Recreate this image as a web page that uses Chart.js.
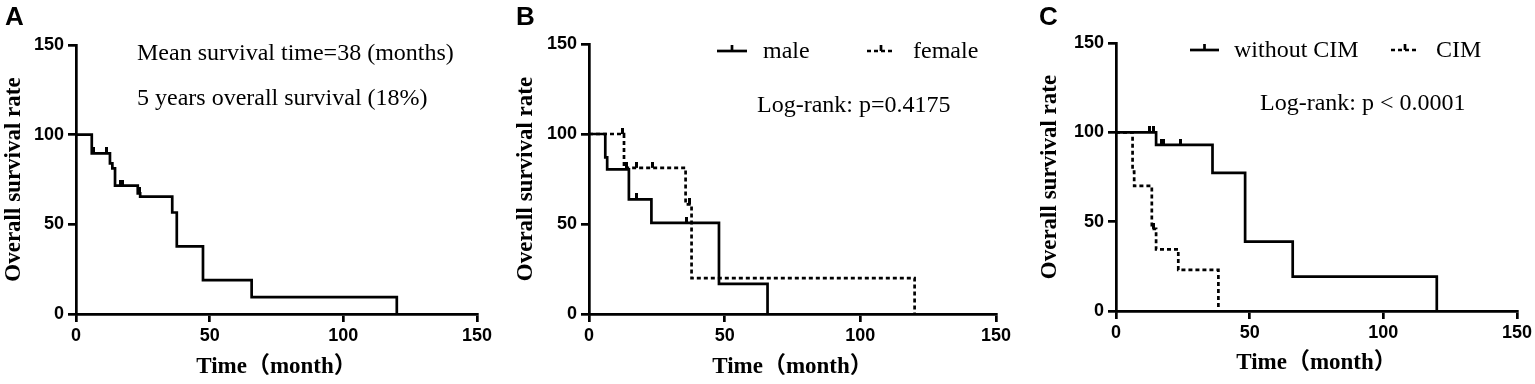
<!DOCTYPE html>
<html>
<head>
<meta charset="utf-8">
<script src="https://cdn.jsdelivr.net/npm/chart.js@4.4.1/dist/chart.umd.min.js"></script>
<style>
  html, body { margin: 0; padding: 0; background: #fff; }
  body { width: 1535px; height: 384px; position: relative; overflow: hidden; }
  .panel { position: absolute; top: 0; height: 384px; }
</style>
</head>
<body>
<div class="panel" style="left:0;width:505px"><canvas id="chartA" width="505" height="384"></canvas></div>
<div class="panel" style="left:505px;width:510px"><canvas id="chartB" width="510" height="384"></canvas></div>
<div class="panel" style="left:1015px;width:520px"><canvas id="chartC" width="520" height="384"></canvas></div>
<script>
// axis ticks and titles
const xTickValues = [0, 50, 100, 150];
const yTickValues = [0, 50, 100, 150];
const xTitle = 'Time（month）';
const yTitle = 'Overall survival rate';

// Panel A - all patients
const timeAll = [0, 5.9, 12.7, 13.6, 14.6, 23.1, 24, 36, 37.7, 47.5, 65.7, 120];
const survAll = [100, 89.6, 84, 81.2, 71.6, 67.3, 65.5, 56.6, 37.7, 18.9, 9.4, 0];
const censorTimeAll = [6.5, 11.5, 16.5, 17.3, 23.6];
const censorSurvAll = [89.6, 89.6, 71.6, 71.6, 67.3];

// Panel B - by sex
const timeMale = [0, 6.0, 6.7, 14.7, 23, 47.9, 65.8];
const survMale = [100, 87, 80.3, 63.7, 50.6, 16.7, 0];
const censorTimeMale = [17.5, 35.9];
const censorSurvMale = [63.7, 50.6];
const timeFemale = [0, 12.9, 35.6, 37.8, 120];
const survFemale = [100, 81.2, 60.9, 19.9, 0];
const censorTimeFemale = [12.4, 13.8, 17.5, 23.5, 37];
const censorSurvFemale = [100, 81.2, 81.2, 81.2, 60.9];

// Panel C - by CIM
const timeNoCim = [0, 15, 36.1, 48.3, 66.1, 120];
const survNoCim = [100, 93, 77.3, 38.8, 19.2, 0];
const censorTimeNoCim = [12.6, 13.9, 17, 17.7, 24];
const censorSurvNoCim = [100, 100, 93, 93, 93];
const timeCim = [0, 6.2, 6.8, 13.4, 15, 23.3, 38.3];
const survCim = [100, 78, 70, 46, 34.5, 23, 0];
const censorTimeCim = [14];
const censorSurvCim = [46];

const serif = '"Liberation Serif", "Times New Roman", "Noto Sans CJK SC", serif';
const sans = '"Liberation Sans", Arial, sans-serif';
const lw = 2.7;

// small upward tick used for censored cases
const tickImg = document.createElement('canvas');
tickImg.width = 3;
tickImg.height = 12;
const tctx = tickImg.getContext('2d');
tctx.fillStyle = '#000';
tctx.fillRect(0, 0, 3, 6);

const toPoints = (xs, ys) => xs.map((x, i) => ({ x: x, y: ys[i] }));

const curve = (label, xs, ys, dashed) => ({
  label: label,
  data: toPoints(xs, ys),
  stepped: true,
  borderColor: '#000',
  borderWidth: lw,
  borderDash: dashed ? [4, 3] : [],
  pointRadius: 0,
  fill: false
});

const censored = (label, xs, ys) => ({
  label: label + ' censored',
  data: toPoints(xs, ys),
  showLine: false,
  pointStyle: tickImg,
  pointRadius: 6,
  borderColor: '#000',
  backgroundColor: '#000'
});

const textPlugin = {
  id: 'panelText',
  afterDraw(chart, args, o) {
    const ctx = chart.ctx;
    ctx.save();
    ctx.fillStyle = '#000';
    ctx.strokeStyle = '#000';
    ctx.textAlign = 'left';
    ctx.textBaseline = 'alphabetic';
    (o.items || []).forEach(t => {
      ctx.font = t.font;
      ctx.fillText(t.text, t.x, t.y);
    });
    (o.legend || []).forEach(l => {
      const ds = chart.data.datasets[l.dataset];
      ctx.lineWidth = ds.borderWidth;
      ctx.setLineDash(ds.borderDash || []);
      ctx.beginPath();
      ctx.moveTo(l.x0, l.y);
      ctx.lineTo(l.x1, l.y);
      ctx.stroke();
      ctx.setLineDash([]);
      ctx.beginPath();
      const mid = (l.x0 + l.x1) / 2;
      ctx.moveTo(mid, l.y);
      ctx.lineTo(mid, l.y - 6);
      ctx.stroke();
      ctx.font = '24px ' + serif;
      ctx.fillText(ds.label, l.tx, l.ty);
    });
    ctx.restore();
  }
};

function axisOptions(o) {
  const grid = { drawOnChartArea: false, drawTicks: true, tickLength: 8, lineWidth: lw, color: '#000' };
  const border = { display: true, width: lw, color: '#000' };
  const tickFont = { family: sans, size: 18, weight: 'bold' };
  return {
    x: {
      type: 'linear', min: 0, max: 150,
      grid: grid, border: border,
      ticks: { color: '#000', font: tickFont, padding: 3 },
      afterBuildTicks: s => { s.ticks = xTickValues.map(v => ({ value: v })); },
      afterFit: s => { s.height = o.xHeight; },
      title: { display: true, text: xTitle, color: '#000',
        font: { family: serif, size: 23, weight: 'bold' },
        padding: { top: 0, bottom: o.xTitlePad } }
    },
    y: {
      type: 'linear', min: 0, max: 150,
      grid: grid, border: border,
      ticks: { color: '#000', font: tickFont, padding: 4 },
      afterBuildTicks: s => { s.ticks = yTickValues.map(v => ({ value: v })); },
      afterFit: s => { s.width = o.yWidth; },
      title: { display: true, text: yTitle, color: '#000',
        font: { family: serif, size: 23, weight: 'bold' },
        padding: { top: 0, bottom: 0 } }
    }
  };
}

function makePanel(id, datasets, o) {
  return new Chart(document.getElementById(id), {
    type: 'line',
    data: { datasets: datasets },
    options: {
      responsive: false,
      animation: false,
      events: [],
      layout: { padding: o.padding },
      scales: axisOptions(o),
      plugins: {
        legend: { display: false },
        tooltip: { enabled: false },
        panelText: { items: o.items, legend: o.legend }
      }
    },
    plugins: [textPlugin]
  });
}

makePanel('chartA', [
  curve('all patients', timeAll, survAll, false),
  censored('all patients', censorTimeAll, censorSurvAll)
], {
  padding: { left: 0, right: 28, top: 45, bottom: 0 },
  yWidth: 76, xHeight: 70, xTitlePad: 3,
  items: [
    { text: 'A', x: 5, y: 25, font: 'bold 26px ' + sans },
    { text: 'Mean survival time=38 (months)', x: 137, y: 60, font: '24px ' + serif },
    { text: '5 years overall survival (18%)', x: 137, y: 105, font: '24px ' + serif }
  ],
  legend: []
});

makePanel('chartB', [
  curve('male', timeMale, survMale, false),
  curve('female', timeFemale, survFemale, true),
  censored('male', censorTimeMale, censorSurvMale),
  censored('female', censorTimeFemale, censorSurvFemale)
], {
  padding: { left: 7, right: 19, top: 44, bottom: 0 },
  yWidth: 77, xHeight: 70, xTitlePad: 3,
  items: [
    { text: 'B', x: 11, y: 25, font: 'bold 26px ' + sans },
    { text: 'Log-rank: p=0.4175', x: 252, y: 112, font: '24px ' + serif }
  ],
  legend: [
    { dataset: 0, x0: 212, x1: 242, y: 51, tx: 258, ty: 58 },
    { dataset: 1, x0: 362, x1: 390, y: 51, tx: 408, ty: 58 }
  ]
});

makePanel('chartC', [
  curve('without CIM', timeNoCim, survNoCim, false),
  curve('CIM', timeCim, survCim, true),
  censored('without CIM', censorTimeNoCim, censorSurvNoCim),
  censored('CIM', censorTimeCim, censorSurvCim)
], {
  padding: { left: 21, right: 18, top: 43, bottom: 0 },
  yWidth: 80, xHeight: 73, xTitlePad: 7,
  items: [
    { text: 'C', x: 24, y: 25, font: 'bold 26px ' + sans },
    { text: 'Log-rank: p < 0.0001', x: 245, y: 110, font: '24px ' + serif }
  ],
  legend: [
    { dataset: 0, x0: 175, x1: 204, y: 50, tx: 219, ty: 57 },
    { dataset: 1, x0: 376, x1: 404, y: 50, tx: 421, ty: 57 }
  ]
});
</script>
</body>
</html>
